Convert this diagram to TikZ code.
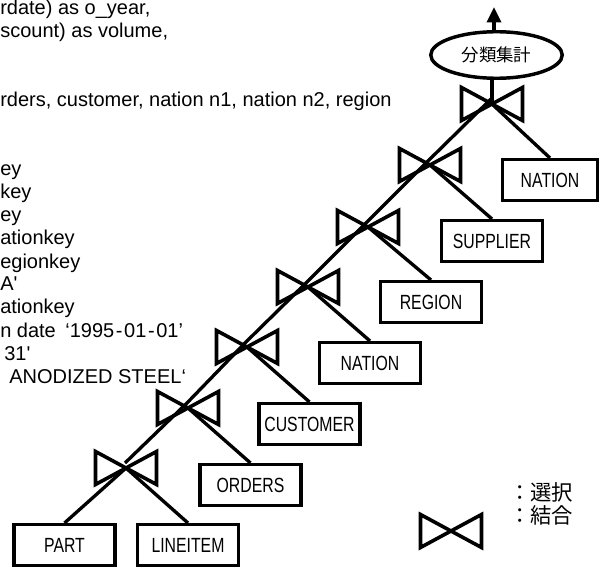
\documentclass[tikz,border=0pt]{standalone}
\usepackage{fontspec}
\setmainfont{Liberation Sans}
\newfontfamily\cjk{Noto Sans CJK JP}
\newfontfamily\boxfont[FakeStretch=0.77]{Liberation Sans}
\usetikzlibrary{arrows.meta,shapes.geometric}

\begin{document}
\begin{tikzpicture}[x=0.75pt,y=-0.75pt,
  link/.style={line width=2.5pt},
  relbox/.style={draw,line width=2.6pt,minimum width=76pt,minimum height=30.4pt,
    inner sep=0pt,font=\boxfont\fontsize{15.4pt}{17pt}\selectfont},
  sqltext/.style={anchor=base west,inner sep=0pt,font=\fontsize{15pt}{17pt}\selectfont},
  legendtext/.style={anchor=base west,inner sep=0pt,font=\cjk\fontsize{16pt}{18pt}\selectfont},
  bowtie/.pic={\draw[line width=2.7pt] (-30.5,-16.5) -- (30.5,16.5) -- (30.5,-16.5)
    -- (-30.5,16.5) -- cycle;}
]
\useasboundingbox (0,0) rectangle (601,567);
\fill[white] (0,0) rectangle (601,567);

% tail ends of the query lines along the left edge
\node[sqltext] (q1)  at (0,15)  {rdate) as o\_year,};
\node[sqltext] (q2)  at (0,38)  {scount) as volume,};
\node[sqltext] (q3)  at (0,107) {rders, customer, nation n1, nation n2, region};
\node[sqltext] (q4)  at (0,176) {ey};
\node[sqltext] (q5)  at (0,199) {key};
\node[sqltext] (q6)  at (0,222) {ey};
\node[sqltext] (q7)  at (0,245) {ationkey};
\node[sqltext] (q8)  at (0,268) {egionkey};
\node[sqltext] (q9)  at (0,291) {A\textquotesingle};
\node[sqltext] (q10) at (0,314) {ationkey};
\node[sqltext] (q11) at (0,337) {n date\hspace{3pt} ‘1995\hspace{1.2pt}-\hspace{1.2pt}01\hspace{1.2pt}-\hspace{1.2pt}01’};
\node[sqltext] (q12) at (4,360) {31\textquotesingle};
\node[sqltext] (q13) at (9,383) {ANODIZED STEEL‘};

% base relations
\node[relbox] (part)     at (64.5,545) {PART};
\node[relbox] (lineitem) at (188,545)  {LINEITEM};
\node[relbox] (orders)   at (250.5,485) {ORDERS};
\node[relbox] (customer) at (309.5,424) {CUSTOMER};
\node[relbox] (nation2)  at (370,363)  {NATION};
\node[relbox] (region)   at (431,302)  {REGION};
\node[relbox] (supplier) at (492,241)  {SUPPLIER};
\node[relbox,minimum width=71pt] (nation1) at (550,180) {NATION};

% aggregation
\node[draw,ellipse,line width=2.6pt,minimum width=98.6pt,minimum height=34.9pt,
  inner sep=0pt,font=\cjk\fontsize{13.1pt}{15pt}\selectfont] (agg) at (496.5,55) {分類集計};
\coordinate (out) at (494,7);

% join operators
\coordinate (j1) at (126,468);
\coordinate (j2) at (188,408);
\coordinate (j3) at (247,347);
\coordinate (j4) at (308,287);
\coordinate (j5) at (368,227);
\coordinate (j6) at (430,165);
\coordinate (j7) at (492,104);
\foreach \j in {j1,j2,j3,j4,j5,j6,j7} \pic at (\j) {bowtie};

% join spine
\draw[link] ([shift={(-1,-5)}]j1) -- ([shift={(-1,-5)}]j2) -- ([shift={(-1,-5)}]j3)
  -- ([shift={(-1,-5)}]j4) -- ([shift={(-1,-5)}]j5) -- ([shift={(-1,-5)}]j6)
  -- ([shift={(-1,-5)}]j7);

% join inputs
\draw[link] (j1) -- (part.north);
\draw[link] (j1) -- (lineitem.north);
\draw[link] (j2) -- (orders.north);
\draw[link] (j3) -- (customer.north);
\draw[link] (j4) -- (nation2.north);
\draw[link] (j5) -- (region.north);
\draw[link] (j6) -- (supplier.north);
\draw[link] (j7) -- (nation1.north);
\draw[link] (j7) -- (j7 |- agg.south);
\draw[link,-{Triangle[length=11.5pt,width=10.5pt]}] (agg.north -| out) -- (out);

% legend
\coordinate (jl) at (451,531);
\pic at (jl) {bowtie};
\node[legendtext] (sel) at (509,500.5) {：選択};
\node[legendtext] (jn)  at (509,523.5) {：結合};
\end{tikzpicture}
\end{document}
